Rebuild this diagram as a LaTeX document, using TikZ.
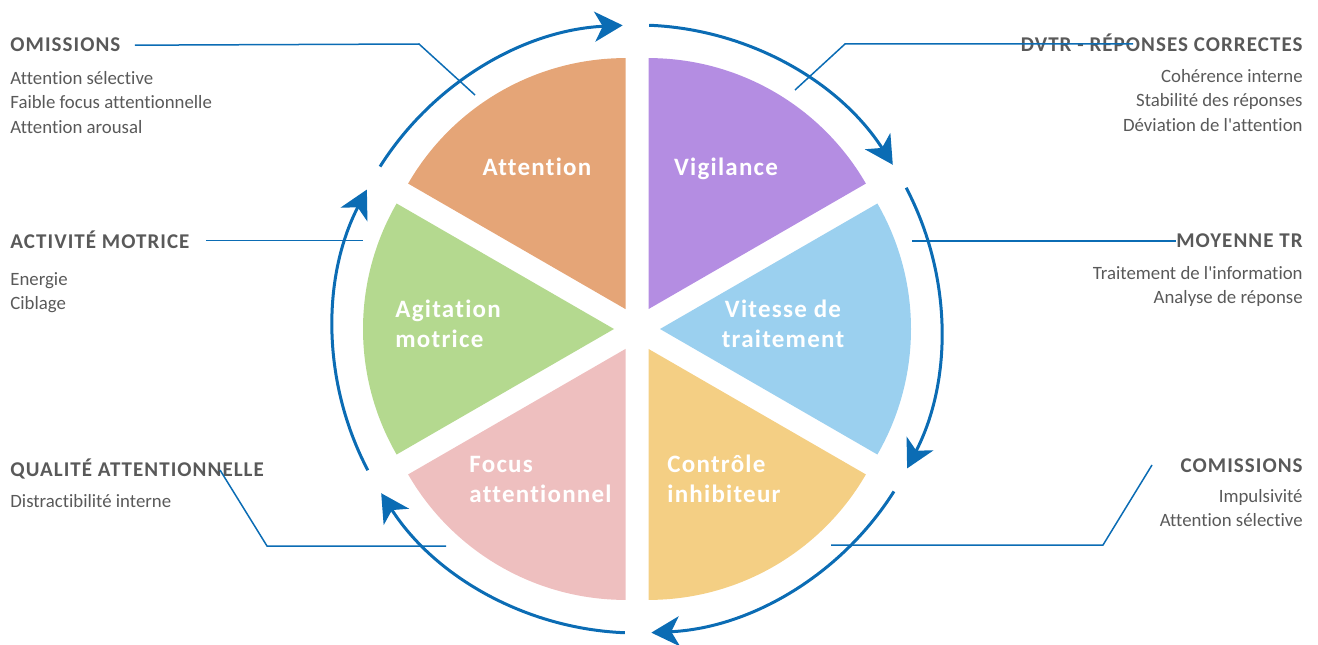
\documentclass[tikz,border=0pt]{standalone}
\usepackage{fontspec}
\setmainfont[Ligatures={TeX,NoCommon}]{Carlito}
\newfontfamily\headfont[LetterSpace=5,Ligatures=NoCommon]{Carlito}
\newfontfamily\slicefont[LetterSpace=5,Ligatures=NoCommon]{Carlito}
\usetikzlibrary{arrows.meta}
\definecolor{ring}{HTML}{0B6CB4}
\definecolor{txtgray}{HTML}{595959}
\definecolor{attn}{HTML}{E5A577}
\definecolor{vigil}{HTML}{B48DE2}
\definecolor{speed}{HTML}{9BD0EF}
\definecolor{inhib}{HTML}{F4CF84}
\definecolor{focus}{HTML}{EEBFBF}
\definecolor{motor}{HTML}{B4D98F}

\begin{document}
\begin{tikzpicture}[
    x=0.5pt, y=0.5pt,
    every node/.style={inner sep=0pt, text=txtgray},
    head/.style={font=\headfont\bfseries\fontsize{10.5}{12}\selectfont},
    desc/.style={font=\fontsize{9.4}{12.2}\selectfont},
    slab/.style={font=\slicefont\bfseries\fontsize{12.5}{15}\selectfont, text=white},
    cyc/.style={draw=ring, line width=1.5pt, -{Stealth[length=14pt, width=15pt, inset=4pt]}},
    lead/.style={draw=ring, line width=0.75pt}
]
\useasboundingbox (0,0) rectangle (1318,644);
\coordinate (c) at (637,315);

% Slices (pushed out from the centre)
\fill[attn]  (c) ++(120:23) -- ++(90:251)  arc[start angle=90,  end angle=150, radius=251] -- cycle;
\fill[vigil] (c) ++(60:23)  -- ++(30:251)  arc[start angle=30,  end angle=90,  radius=251] -- cycle;
\fill[speed] (c) ++(0:23)   -- ++(-30:251) arc[start angle=-30, end angle=30,  radius=251] -- cycle;
\fill[inhib] (c) ++(-60:23) -- ++(-90:251) arc[start angle=-90, end angle=-30, radius=251] -- cycle;
\fill[focus] (c) ++(-120:23) -- ++(-150:251) arc[start angle=-150, end angle=-90, radius=251] -- cycle;
\fill[motor] (c) ++(180:23) -- ++(150:251) arc[start angle=150, end angle=210, radius=251] -- cycle;

% Slice labels
\node[slab, anchor=base] (lattn) at (537,468) {Attention};
\node[slab, anchor=base] (lvigil) at (726,468) {Vigilance};
\node[slab, anchor=north, align=center] (lspeed) at (783,344) {Vitesse de\\traitement};
\node[slab, anchor=north west, align=left] (linhib) at (667,189) {Contrôle\\inhibiteur};
\node[slab, anchor=north west, align=left] (lfocus) at (469,188) {Focus\\attentionnel};
\node[slab, anchor=north west, align=left] (lmotor) at (395,344) {Agitation\\motrice};

% Cycle
\draw[cyc] (c) ++(147.7:304) arc[start angle=147.7, end angle=92.7, radius=304];
\draw[cyc] (c) ++(87.7:304) arc[start angle=87.7, end angle=32.7, radius=304];
\draw[cyc] (c) ++(27.7:304) arc[start angle=27.7, end angle=-27.3, radius=304];
\draw[cyc] (c) ++(-32.3:304) arc[start angle=-32.3, end angle=-87.3, radius=304];
\draw[cyc] (c) ++(-92.3:304) arc[start angle=-92.3, end angle=-147.3, radius=304];
\draw[cyc] (c) ++(-152.3:304) arc[start angle=-152.3, end angle=-207.3, radius=304];

% Left side
\node[head, anchor=base west] (omis) at (10,592) {OMISSIONS};
\node[desc, anchor=north west, align=left] (omisd) at (10,573) {Attention sélective\\Faible focus attentionnelle\\Attention arousal};
\node[head, anchor=base west] (activ) at (10,395) {ACTIVITÉ MOTRICE};
\node[desc, anchor=north west, align=left] (activd) at (10,372) {Energie\\Ciblage};
\node[head, anchor=base west] (qual) at (10,168) {QUALITÉ ATTENTIONNELLE};
\node[desc, anchor=base west] (quald) at (10,137) {Distractibilité interne};

% Right side
\node[head, anchor=base east] (dvtr) at (1303,592) {DVTR - RÉPONSES CORRECTES};
\node[desc, anchor=north east, align=right] (dvtrd) at (1303,575) {Cohérence interne\\Stabilité des réponses\\Déviation de l\textquotesingle attention};
\node[head, anchor=base east] (moyen) at (1303,396) {MOYENNE TR};
\node[desc, anchor=north east, align=right] (moyend) at (1303,378) {Traitement de l\textquotesingle information\\Analyse de réponse};
\node[head, anchor=base east] (comis) at (1303,172) {COMISSIONS};
\node[desc, anchor=north east, align=right] (comisd) at (1303,155) {Impulsivité\\Attention sélective};

% Leader lines
\coordinate (omisbend) at (419,600);
\coordinate (omisend) at (475,549);
\coordinate (dvtrend) at (795,554);
\coordinate (dvtrbend) at (845,600);
\coordinate (dvtrstart) at (1133,600);
\coordinate (activend) at (363,404);
\coordinate (moyenend) at (912,404);
\coordinate (qualstart) at (220,174);
\coordinate (qualbend) at (267,98);
\coordinate (qualend) at (446,98);
\coordinate (comisstart) at (1152,179);
\coordinate (comisbend) at (1103,99);
\coordinate (comisend) at (831,99);

\draw[lead] ([xshift=7pt]omis.east) -- (omisbend) -- (omisend);
\draw[lead] (dvtrstart) -- (dvtrbend) -- (dvtrend);
\draw[lead] ([xshift=8pt]activ.east) -- (activ.east -| activend);
\draw[lead] (moyen.west) -- (moyen.west -| moyenend);
\draw[lead] (qualstart) -- (qualbend) -- (qualend);
\draw[lead] (comisstart) -- (comisbend) -- (comisend);
\end{tikzpicture}
\end{document}
